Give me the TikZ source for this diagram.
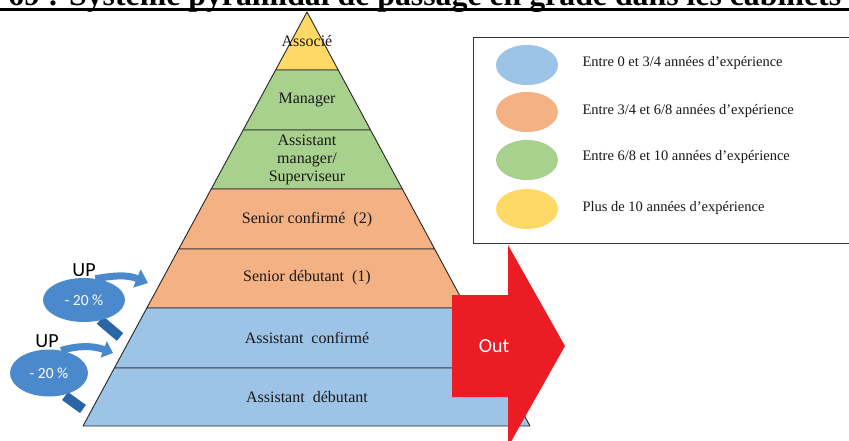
\documentclass[tikz,border=0pt]{standalone}
\usepackage{fontspec}
\setmainfont{Liberation Serif}
\newfontfamily\slidefont{Carlito}
\usetikzlibrary{positioning, calc, arrows.meta, shapes.geometric}
\definecolor{tierblue}{RGB}{157,195,230}
\definecolor{tierorange}{RGB}{244,177,131}
\definecolor{tiergreen}{RGB}{169,209,142}
\definecolor{tieryellow}{RGB}{255,217,102}
\definecolor{upblue}{RGB}{74,137,204}
\definecolor{updark}{RGB}{42,102,166}
\definecolor{outred}{RGB}{236,28,36}

\tikzset{
  tier/.style={draw=black!85, line width=0.9pt, line join=round},
  tierlabel/.style={font=\fontsize{16}{18}\selectfont, align=center, text=black!90},
  legdot/.style={ellipse, minimum width=62pt, minimum height=40pt, inner sep=0pt},
  legtext/.style={anchor=west, font=\fontsize{14.5}{16}\selectfont, text=black!90},
  upbubble/.style={ellipse, fill=upblue, inner sep=0pt, text=white,
                   font=\slidefont\fontsize{15.5}{17}\selectfont},
  uparrow/.style={draw=upblue, line width=7pt},
  uptail/.style={draw=updark, line width=10pt},
  uplabel/.style={font=\slidefont\fontsize{20}{22}\selectfont}
}

\begin{document}
\begin{tikzpicture}[x=1pt, y=-1pt]
  \useasboundingbox (0,0) rectangle (849,441);
  \clip (0,0) rectangle (849,441);

  % title, cut at the top
  \node[anchor=base west, inner sep=0pt, font=\bfseries\fontsize{31.8}{34}\selectfont] (title) at (8,6)
    {69 : Système pyramidal de passage en grade dans les cabinets};
  \draw[line width=2.5pt] (0,9.5) -- (849,9.5);

  % pyramid
  \coordinate (apex) at (307,12);
  \coordinate (bl) at (83,426);
  \coordinate (br) at (530,426);
  \foreach \ya/\yb/\col in {12/70/tieryellow, 70/130/tiergreen, 130/189/tiergreen,
                            189/249/tierorange, 249/308/tierorange,
                            308/368/tierblue, 368/426/tierblue}
    \filldraw[tier, fill=\col] ($(apex)!{(\ya-12)/414}!(bl)$) -- ($(apex)!{(\yb-12)/414}!(bl)$)
      -- ($(apex)!{(\yb-12)/414}!(br)$) -- ($(apex)!{(\ya-12)/414}!(br)$) -- cycle;

  \node[tierlabel] (associe) at (307,41) {Associé};
  \node[tierlabel] (manager) at (307,100) {Manager};
  \node[tierlabel] (asstmgr) at (307,160) {Assistant\\manager/\\Superviseur};
  \node[tierlabel] (srconf) at (307,220) {Senior confirmé~ (2)};
  \node[tierlabel] (srdeb) at (307,278) {Senior débutant~ (1)};
  \node[tierlabel] (asconf) at (307,338) {Assistant~ confirmé};
  \node[tierlabel] (asdeb) at (307,397) {Assistant~ débutant};

  % legend
  \draw[draw=black!80, line width=0.8pt, fill=white] (473,37) rectangle (860,243);
  \node[legdot, fill=tierblue] (leg1) at (527,65) {};
  \node[legdot, fill=tierorange] (leg2) at (527,112) {};
  \node[legdot, fill=tiergreen] (leg3) at (527,160) {};
  \node[legdot, fill=tieryellow] (leg4) at (527,209) {};
  \node[legtext] (legt1) at (579,63) {Entre 0 et 3/4 années d’expérience};
  \node[legtext] (legt2) at (579,111) {Entre 3/4 et 6/8 années d’expérience};
  \node[legtext] (legt3) at (579,157) {Entre 6/8 et 10 années d’expérience};
  \node[legtext] (legt4) at (579,208) {Plus de 10 années d’expérience};

  % out arrow
  \fill[outred] (452,295) -- (508,295) -- (508,245) -- (565,346) -- (508,447)
    -- (508,397) -- (452,397) -- cycle;
  \node[text=white, font=\slidefont\fontsize{20}{22}\selectfont] (out) at (494,346) {Out};

  % up bubbles
  \draw[uptail] (100,320) -- (120,337);
  \draw[uptail] (65,396) -- (83,409);
  \node[upbubble, minimum width=82pt, minimum height=44pt] (up1) at (84,300) {- 20 \%};
  \node[upbubble, minimum width=78pt, minimum height=47pt] (up2) at (49,373) {- 20 \%};
  \draw[uparrow, -{Triangle[length=12pt, width=19pt]}]
    (up1.62) .. controls (112,276) and (126,274) .. (148,283);
  \draw[uparrow, -{Triangle[length=10pt, width=17pt]}]
    (up2.62) .. controls (76,346) and (92,345) .. (113,353);
  \node[uplabel] (uplab1) at (84,270) {UP};
  \node[uplabel] (uplab2) at (47,341) {UP};
\end{tikzpicture}
\end{document}
